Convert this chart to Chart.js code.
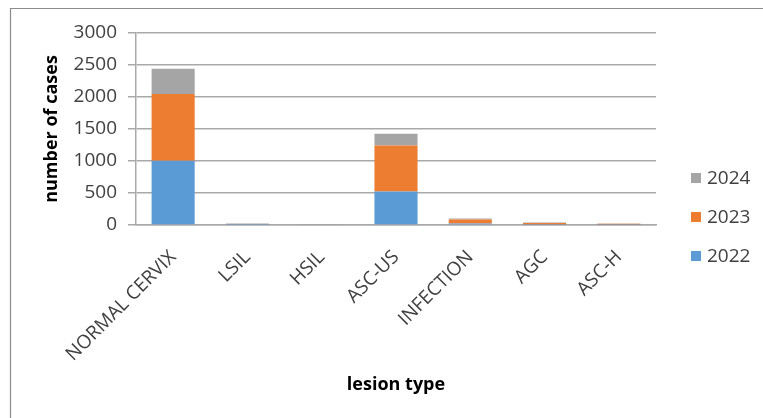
<!DOCTYPE html>
<html>
<head>
<meta charset="utf-8">
<script src="https://cdn.jsdelivr.net/npm/chart.js@4/dist/chart.umd.min.js"></script>
<style>
  html, body { margin: 0; padding: 0; background: #ffffff; }
  #wrap { width: 763px; height: 418px; position: relative; }
</style>
</head>
<body>
<div id="wrap"><canvas id="c" width="763" height="418"></canvas></div>
<script>
// Lesion categories on the x axis
const categories = ['NORMAL CERVIX', 'LSIL', 'HSIL', 'ASC-US', 'INFECTION', 'AGC', 'ASC-H'];

// Cases per year, stacked bottom to top
const cases2022 = [1003, 3, 0, 523, 25, 3, 2];
const cases2023 = [1042, 5, 0, 719, 62, 28, 18];
const cases2024 = [395, 14, 1, 182, 15, 10, 5];

// Value axis ticks
const yTicks = [0, 500, 1000, 1500, 2000, 2500, 3000];

const FONT = "'Open Sans', 'Liberation Sans', sans-serif";
const GRID = '#a9a9a9';
const TEXT = '#404040';

// Thin frame around the whole chart
const framePlugin = {
  id: 'frame',
  beforeDraw(chart) {
    const ctx = chart.ctx;
    ctx.save();
    ctx.fillStyle = '#ffffff';
    ctx.fillRect(0, 0, chart.width, chart.height);
    ctx.strokeStyle = '#8c8c8c';
    ctx.lineWidth = 1.2;
    ctx.beginPath();
    ctx.moveTo(10.5, chart.height + 2);
    ctx.lineTo(10.5, 8.5);
    ctx.lineTo(chart.width + 2, 8.5);
    ctx.stroke();
    ctx.restore();
  }
};

// Legend on the right, listed top-down in reverse stacking order
const sideLegend = {
  id: 'sideLegend',
  afterDraw(chart) {
    const ctx = chart.ctx;
    const sets = chart.data.datasets.slice().reverse();
    const x = 691, y0 = 178, step = 39, box = 10;
    ctx.save();
    ctx.font = '19px ' + FONT;
    ctx.textBaseline = 'middle';
    ctx.textAlign = 'left';
    sets.forEach((ds, i) => {
      const y = y0 + i * step;
      ctx.fillStyle = ds.backgroundColor;
      ctx.fillRect(x, y - box / 2, box, box);
      ctx.fillStyle = TEXT;
      ctx.fillText(ds.label, x + 16, y + 1);
    });
    ctx.restore();
  }
};

new Chart(document.getElementById('c'), {
  type: 'bar',
  data: {
    labels: categories,
    datasets: [
      { label: '2022', data: cases2022, backgroundColor: '#5b9bd5' },
      { label: '2023', data: cases2023, backgroundColor: '#ed7d31' },
      { label: '2024', data: cases2024, backgroundColor: '#a5a5a5' }
    ]
  },
  options: {
    responsive: false,
    animation: false,
    devicePixelRatio: 1,
    layout: { padding: { left: 0, top: 33, right: 107, bottom: 0 } },
    datasets: { bar: { categoryPercentage: 1, barPercentage: 0.58 } },
    plugins: {
      legend: { display: false },
      tooltip: { enabled: false }
    },
    scales: {
      x: {
        stacked: true,
        afterFit(scale) { scale.height = 418 - 225; },
        grid: { display: false },
        border: { display: true, color: GRID, width: 1.5 },
        ticks: {
          minRotation: 45,
          maxRotation: 45,
          autoSkip: false,
          padding: 13,
          color: TEXT,
          font: { family: FONT, size: 19 }
        },
        title: {
          display: true,
          text: 'lesion type',
          color: '#000000',
          font: { family: FONT, size: 18, weight: 'bold' },
          padding: { top: 0, bottom: 22 }
        }
      },
      y: {
        stacked: true,
        min: 0,
        max: 3000,
        afterFit(scale) { scale.width = 136; },
        afterBuildTicks(scale) { scale.ticks = yTicks.map(v => ({ value: v })); },
        grid: { color: GRID, lineWidth: 1.5, tickLength: 8 },
        border: { display: true, color: GRID, width: 1.5 },
        ticks: {
          padding: 11,
          color: TEXT,
          font: { family: FONT, size: 19 },
          callback: (v) => String(v)
        },
        title: {
          display: true,
          text: 'number of cases',
          color: '#000000',
          font: { family: FONT, size: 18, weight: 'bold' },
          padding: { top: 41, bottom: 0 }
        }
      }
    }
  },
  plugins: [framePlugin, sideLegend]
});
</script>
</body>
</html>
